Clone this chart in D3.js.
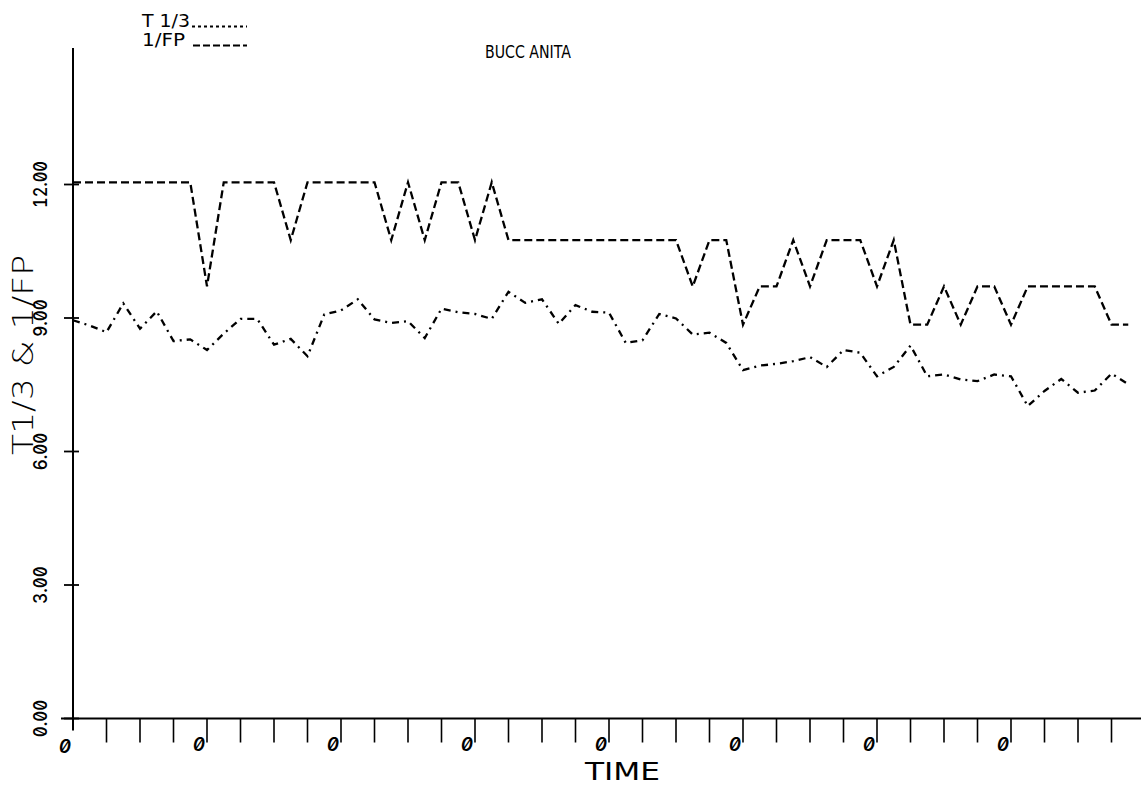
<!DOCTYPE html>
<html>
<head>
<meta charset="utf-8">
<script src="https://cdn.jsdelivr.net/npm/d3@7"></script>
<style>
  html, body { margin: 0; padding: 0; background: #fff; }
  svg { display: block; }
  text { fill: #000; }
  .num { font-feature-settings: "zero" 1, "tnum" 1; }
</style>
</head>
<body>
<svg id="chart" width="1143" height="786"></svg>
<script>
// Sampled values, one per time step
const t13 = [8.95, 8.83, 8.68, 9.33, 8.76, 9.15, 8.48, 8.52, 8.28, 8.65,
             8.98, 8.98, 8.40, 8.53, 8.14, 9.08, 9.17, 9.42, 8.97, 8.89,
             8.93, 8.55, 9.21, 9.13, 9.09, 8.98, 9.59, 9.34, 9.42, 8.87,
             9.29, 9.14, 9.12, 8.44, 8.50, 9.09, 8.99, 8.63, 8.67, 8.44,
             7.83, 7.93, 7.97, 8.03, 8.12, 7.90, 8.28, 8.22, 7.69, 7.90,
             8.38, 7.69, 7.73, 7.62, 7.58, 7.73, 7.69, 7.02, 7.36, 7.63,
             7.32, 7.37, 7.75, 7.51];
const invFP = [12.05, 12.05, 12.05, 12.05, 12.05, 12.05, 12.05, 12.05, 9.71, 12.05,
               12.05, 12.05, 12.05, 10.75, 12.05, 12.05, 12.05, 12.05, 12.05, 10.75,
               12.05, 10.75, 12.05, 12.05, 10.75, 12.05, 10.75, 10.75, 10.75, 10.75,
               10.75, 10.75, 10.75, 10.75, 10.75, 10.75, 10.75, 9.71, 10.75, 10.75,
               8.85, 9.71, 9.71, 10.75, 9.71, 10.75, 10.75, 10.75, 9.71, 10.75,
               8.85, 8.85, 9.71, 8.85, 9.71, 9.71, 8.85, 9.71, 9.71, 9.71,
               9.71, 9.71, 8.85, 8.85];
const yTicks = [0, 3, 6, 9, 12];
const yTickLabels = ["0.00", "3.00", "6.00", "9.00", "12.00"];
const xMinorTicks = d3.range(2, 63, 2);
const xMajorTicks = [0, 8, 16, 24, 32, 40, 48, 56];
const xMajorLabels = ["0", "0", "0", "0", "0", "0", "0", "0"];
const titleText = "BUCC ANITA";
const yTitle = "T1/3 & 1/FP";
const xTitle = "TIME";
const legendItems = [
  { label: "T 1/3", dash: "3,3", x1: 192, len: 48 },
  { label: "1/FP", dash: "7,3", x1: 193, len: 43 }
];

const svg = d3.select("#chart");
const x = d3.scaleLinear().domain([0, 64]).range([73, 1145]);
const y = d3.scaleLinear().domain([0, 15]).range([718.5, 51]);

const numFont = "Inter, 'DejaVu Sans', sans-serif";
const sans = "'DejaVu Sans', sans-serif";
const ink = "#000";

// Axes drawn as plotter strokes
svg.append("line").attr("x1", x(0)).attr("x2", x(0))
  .attr("y1", y(15) - 3).attr("y2", y(0) + 12)
  .attr("stroke", ink).attr("stroke-width", 2);
svg.append("line").attr("x1", x(0) - 12).attr("x2", 1141)
  .attr("y1", y(0)).attr("y2", y(0))
  .attr("stroke", ink).attr("stroke-width", 2);

// y ticks cross the axis
svg.selectAll(".ytick").data(yTicks).join("line")
  .attr("x1", x(0) - 9).attr("x2", x(0) + 6)
  .attr("y1", d => y(d)).attr("y2", d => y(d))
  .attr("stroke", ink).attr("stroke-width", 1.8);

svg.selectAll(".ylab").data(yTicks).join("text")
  .attr("class", "num")
  .attr("transform", d => `translate(47,${y(d)}) rotate(-90)`)
  .attr("text-anchor", "middle")
  .attr("font-family", numFont).attr("font-size", 19).attr("font-weight", 500)
  .attr("textLength", (d, i) => yTickLabels[i].length * 9.4)
  .attr("lengthAdjust", "spacingAndGlyphs")
  .text((d, i) => yTickLabels[i]);

// x ticks hang below the axis
svg.selectAll(".xtick").data(xMinorTicks).join("line")
  .attr("x1", d => x(d)).attr("x2", d => x(d))
  .attr("y1", y(0)).attr("y2", y(0) + 24)
  .attr("stroke", ink).attr("stroke-width", 1.6);

svg.selectAll(".xlab").data(xMajorTicks).join("text")
  .attr("class", "num")
  .attr("x", d => x(d) - 2)
  .attr("y", (d, i) => y(0) + (i === 0 ? 34 : 32))
  .attr("text-anchor", "end")
  .attr("font-family", numFont).attr("font-size", 19).attr("font-weight", 600)
  .attr("font-style", "italic")
  .text((d, i) => xMajorLabels[i]);

// Titles
svg.append("text").attr("x", 485).attr("y", 58)
  .attr("font-family", sans).attr("font-size", 17)
  .attr("textLength", 86).attr("lengthAdjust", "spacingAndGlyphs")
  .text(titleText);

svg.append("text")
  .attr("transform", "translate(33,355) rotate(-90)")
  .attr("text-anchor", "middle")
  .attr("font-family", sans).attr("font-size", 28).attr("font-weight", 300)
  .attr("textLength", 200).attr("lengthAdjust", "spacingAndGlyphs")
  .text(yTitle);

svg.append("text").attr("x", 585).attr("y", 780)
  .attr("font-family", sans).attr("font-size", 25)
  .attr("textLength", 75).attr("lengthAdjust", "spacingAndGlyphs")
  .text(xTitle);

// Legend
const lg = svg.append("g");
legendItems.forEach((it, i) => {
  const ty = 27 + i * 19;
  lg.append("text").attr("x", 142).attr("y", ty)
    .attr("font-family", sans).attr("font-size", 17)
    .attr("textLength", it.len).attr("lengthAdjust", "spacingAndGlyphs")
    .text(it.label);
  lg.append("line")
    .attr("x1", it.x1).attr("x2", 247)
    .attr("y1", ty - 0.5).attr("y2", ty - 0.5)
    .attr("stroke", ink).attr("stroke-width", 1.8)
    .attr("stroke-dasharray", it.dash);
});

// Series
const line = d3.line().x((d, i) => x(i)).y(d => y(d));

svg.append("path").datum(invFP)
  .attr("d", line).attr("fill", "none")
  .attr("stroke", ink).attr("stroke-width", 2.3)
  .attr("stroke-dasharray", "8,4");

svg.append("path").datum(t13)
  .attr("d", line).attr("fill", "none")
  .attr("stroke", ink).attr("stroke-width", 2.3)
  .attr("stroke-dasharray", "7,5,2,5");
</script>
</body>
</html>
